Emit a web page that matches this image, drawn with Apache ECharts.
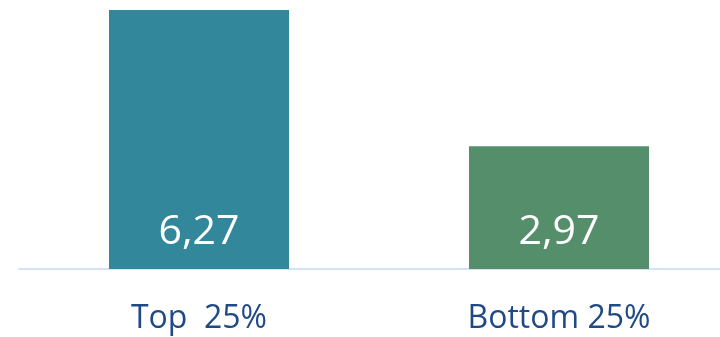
<!DOCTYPE html>
<html>
<head>
<meta charset="utf-8">
<script src="https://cdn.jsdelivr.net/npm/echarts@6/dist/echarts.min.js"></script>
<style>
  html, body { margin: 0; padding: 0; background: #ffffff; overflow: hidden; }
  #chart { width: 740px; height: 337px; }
</style>
</head>
<body>
<div id="chart"></div>
<script>
// Average values per group
const categories = ['Top  25%', 'Bottom 25%'];
const values = [6.27, 2.97];
const barColors = ['#32879B', '#558E6A'];

const chart = echarts.init(document.getElementById('chart'), null, { renderer: 'canvas' });

chart.setOption({
  animation: false,
  grid: { left: 19, right: 1, top: 10, bottom: 68, containLabel: false },
  xAxis: {
    type: 'category',
    data: categories,
    axisLine: { show: true, lineStyle: { color: '#D5E1F4', width: 2 } },
    axisTick: { show: false },
    axisLabel: {
      color: '#1F4A86',
      fontFamily: 'Open Sans',
      fontSize: 32,
      margin: 34
    }
  },
  yAxis: {
    type: 'value',
    min: 0,
    max: 6.27,
    show: false,
    splitLine: { show: false }
  },
  series: [{
    type: 'bar',
    barWidth: 180,
    data: values.map((v, i) => ({ value: v, itemStyle: { color: barColors[i] } })),
    label: {
      show: true,
      position: 'insideBottom',
      distance: 16,
      color: '#ffffff',
      fontFamily: 'Open Sans',
      fontSize: 41,
      formatter: p => p.value.toFixed(2).replace('.', ',')
    }
  }]
});
</script>
</body>
</html>
